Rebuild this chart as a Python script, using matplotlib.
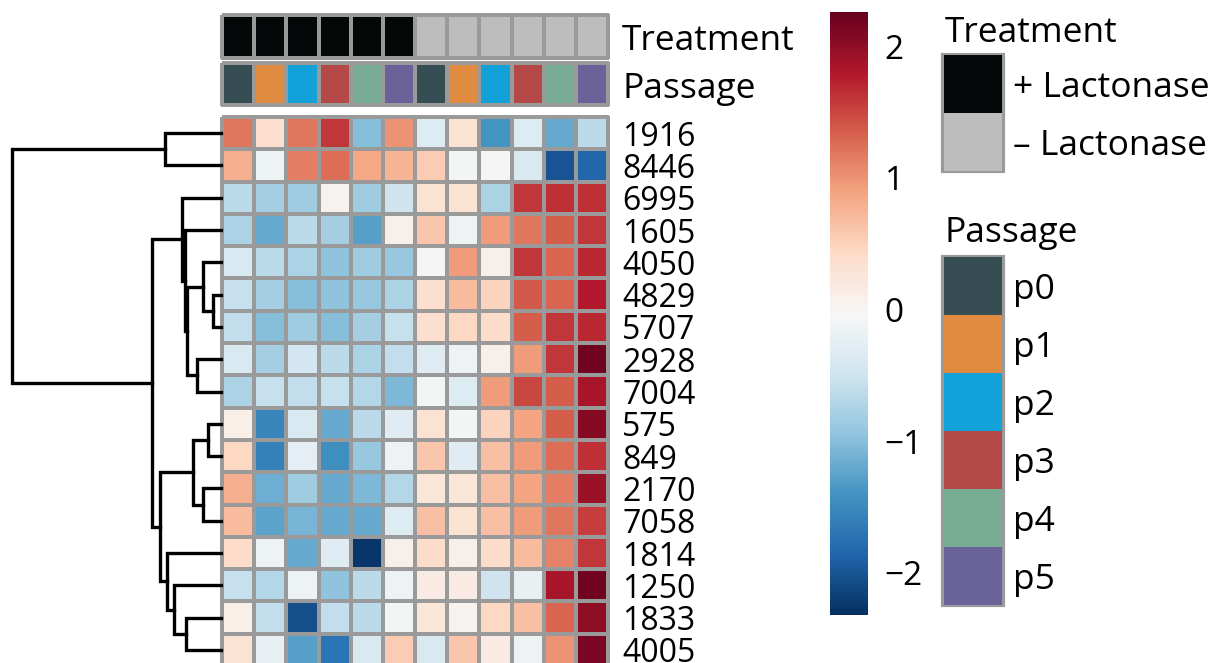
import matplotlib
matplotlib.use("Agg")
import matplotlib.pyplot as plt
import numpy as np
from matplotlib.colors import ListedColormap, Normalize
from matplotlib.patches import Rectangle

plt.rcParams['font.family'] = ['Open Sans', 'DejaVu Sans']

# ---- data ----
genes = ['1916', '8446', '6995', '1605', '4050', '4829', '5707', '2928', '7004',
         '575', '849', '2170', '7058', '1814', '1250', '1833', '4005']

treatment = ['+', '+', '+', '+', '+', '+', '-', '-', '-', '-', '-', '-']
passage = ['p0', 'p1', 'p2', 'p3', 'p4', 'p5', 'p0', 'p1', 'p2', 'p3', 'p4', 'p5']

treat_levels = ['+', '-']
treat_names = ['+ Lactonase', '\u2013 Lactonase']
treat_colors = ['#050808', '#bdbdbd']
pass_levels = ['p0', 'p1', 'p2', 'p3', 'p4', 'p5']
pass_colors = ['#374d54', '#e08c40', '#12a1d8', '#b34a48', '#78ac94', '#6a6399']

values = np.array([
    [1.20, 0.35, 1.20, 1.60, -1.00, 1.00, -0.35, 0.30, -1.40, -0.35, -1.20, -0.65],
    [0.80, -0.15, 1.15, 1.25, 0.85, 0.75, 0.55, -0.10, 0.00, -0.40, -2.00, -1.85],
    [-0.65, -0.80, -0.85, 0.05, -0.85, -0.50, 0.30, 0.30, -0.75, 1.60, 1.65, 1.65],
    [-0.75, -1.20, -0.65, -0.80, -1.30, 0.10, 0.60, -0.15, 0.95, 1.20, 1.35, 1.60],
    [-0.40, -0.65, -0.75, -0.95, -0.85, -0.90, 0.00, 0.95, 0.10, 1.60, 1.30, 1.70],
    [-0.55, -0.80, -1.00, -0.95, -0.90, -0.75, 0.35, 0.70, 0.50, 1.40, 1.30, 1.80],
    [-0.60, -1.00, -0.85, -1.00, -0.80, -0.55, 0.35, 0.45, 0.40, 1.35, 1.60, 1.70],
    [-0.40, -0.80, -0.45, -0.65, -0.75, -0.60, -0.30, -0.15, 0.10, 0.95, 1.60, 2.20],
    [-0.75, -0.55, -0.60, -0.55, -0.70, -1.05, -0.10, -0.35, 0.95, 1.50, 1.35, 1.85],
    [0.10, -1.55, -0.40, -1.20, -0.65, -0.30, 0.30, -0.10, 0.50, 0.90, 1.35, 2.05],
    [0.45, -1.60, -0.25, -1.45, -0.90, -0.15, 0.60, -0.30, 0.65, 0.95, 1.25, 1.65],
    [0.80, -1.15, -0.85, -1.20, -1.05, -0.70, 0.25, 0.25, 0.65, 0.90, 1.15, 1.95],
    [0.70, -1.25, -1.10, -1.20, -1.20, -0.35, 0.65, 0.30, 0.65, 0.95, 1.20, 1.55],
    [0.40, -0.15, -1.20, -0.30, -2.25, 0.10, 0.40, 0.10, 0.40, 0.70, 1.10, 1.60],
    [-0.55, -0.70, -0.15, -0.95, -0.65, -0.15, 0.15, 0.15, -0.50, -0.20, 1.85, 2.20],
    [0.10, -0.60, -2.05, -0.60, -0.65, -0.10, 0.25, 0.05, 0.45, 0.65, 1.30, 2.00],
    [0.30, -0.20, -1.30, -1.70, -0.40, 0.55, -0.40, 0.60, 0.15, -0.15, 1.00, 2.15],
])

# row dendrogram merges: (left, right, height); nodes 17+ are earlier merges
merges = [
    (5, 6, 0.037), (4, 17, 0.088), (7, 8, 0.116), (18, 19, 0.164),
    (3, 20, 0.172), (2, 21, 0.188), (9, 10, 0.061), (11, 12, 0.084),
    (23, 24, 0.135), (15, 16, 0.167), (14, 26, 0.225), (13, 27, 0.260),
    (25, 28, 0.290), (22, 29, 0.331), (0, 1, 0.270), (31, 30, 1.000),
]

vmin, vmax = -2.32, 2.26

# ---- layout (pixels) ----
W, H = 1217, 663
fig = plt.figure(figsize=(W / 100, H / 100), dpi=100)

def px_axes(x0, y0, x1, y1):
    return fig.add_axes([x0 / W, 1 - y1 / H, (x1 - x0) / W, (y1 - y0) / H])

grid = '#9a9a9a'
fs_row = 23
fs_big = 25.5
nrow, ncol = values.shape
cell_h = 32.3
top = 117
bottom = top + nrow * cell_h
hx0, hx1 = 222, 608
lab_x = 622
base_off = 12.5  # baseline below the center of a row

# overlay axes in pixel units, for text and legend boxes
lax = px_axes(0, 0, W, H)
lax.set_xlim(0, W)
lax.set_ylim(H, 0)
lax.axis('off')

# heatmap
ax = px_axes(hx0, top, hx1, bottom)
mesh = ax.pcolormesh(values, cmap='RdBu_r', norm=Normalize(vmin, vmax),
                     edgecolors=grid, linewidth=1.6)
mesh.set_clip_on(False)
ax.set_xlim(0, ncol)
ax.set_ylim(nrow, 0)
ax.axis('off')
for i, g in enumerate(genes):
    lax.text(lab_x, top + (i + 0.5) * cell_h + base_off, g, va='baseline',
             ha='left', fontsize=fs_row)

# column annotations
def annot_row(y0, y1, labels, levels, colors, title):
    a = px_axes(hx0, y0, hx1, y1)
    codes = np.array([[levels.index(l) for l in labels]])
    m = a.pcolormesh(codes, cmap=ListedColormap(colors), vmin=-0.5,
                     vmax=len(colors) - 0.5, edgecolors=grid, linewidth=1.6)
    m.set_clip_on(False)
    a.set_xlim(0, ncol)
    a.set_ylim(1, 0)
    a.axis('off')
    lax.text(lab_x, (y0 + y1) / 2 + 13.5, title, va='baseline', ha='left',
             fontsize=fs_big)

annot_row(15, 58, treatment, treat_levels, treat_colors, 'Treatment')
annot_row(63, 105, passage, pass_levels, pass_colors, 'Passage')

# dendrogram
dax = px_axes(12, top, 221, bottom)
pos = {i: (i + 0.5, 0.0) for i in range(nrow)}
for k, (l, r, h) in enumerate(merges):
    yl, hl = pos[l]
    yr, hr = pos[r]
    dax.plot([hl, h, h, hr], [yl, yl, yr, yr], color='black', lw=2.4,
             solid_joinstyle='miter', clip_on=False)
    pos[nrow + k] = ((yl + yr) / 2, h)
dax.set_xlim(1.0, 0)
dax.set_ylim(nrow, 0)
dax.axis('off')

# colorbar
cax = px_axes(830, 12, 868, 615)
cb = fig.colorbar(mesh, cax=cax, ticks=[-2, -1, 0, 1, 2])
cb.outline.set_visible(False)
cax.tick_params(length=0, pad=12, labelsize=24)

# legends
def legend_block(y_base, y_box, names, colors, title):
    lax.text(945, y_base, title, va='baseline', ha='left', fontsize=fs_big)
    bh = 58
    lax.add_patch(Rectangle((943, y_box), 60, bh * len(names), facecolor='none',
                            edgecolor=grid, lw=3))
    for i, (n, c) in enumerate(zip(names, colors)):
        lax.add_patch(Rectangle((944, y_box + i * bh), 58, bh, facecolor=c,
                                edgecolor='none'))
        lax.text(1013, y_box + (i + 0.5) * bh + 13, n, va='baseline', ha='left',
                 fontsize=fs_big)

legend_block(42, 55, treat_names, treat_colors, 'Treatment')
legend_block(242, 257, pass_levels, pass_colors, 'Passage')

fig.savefig('out.png', dpi=100)
